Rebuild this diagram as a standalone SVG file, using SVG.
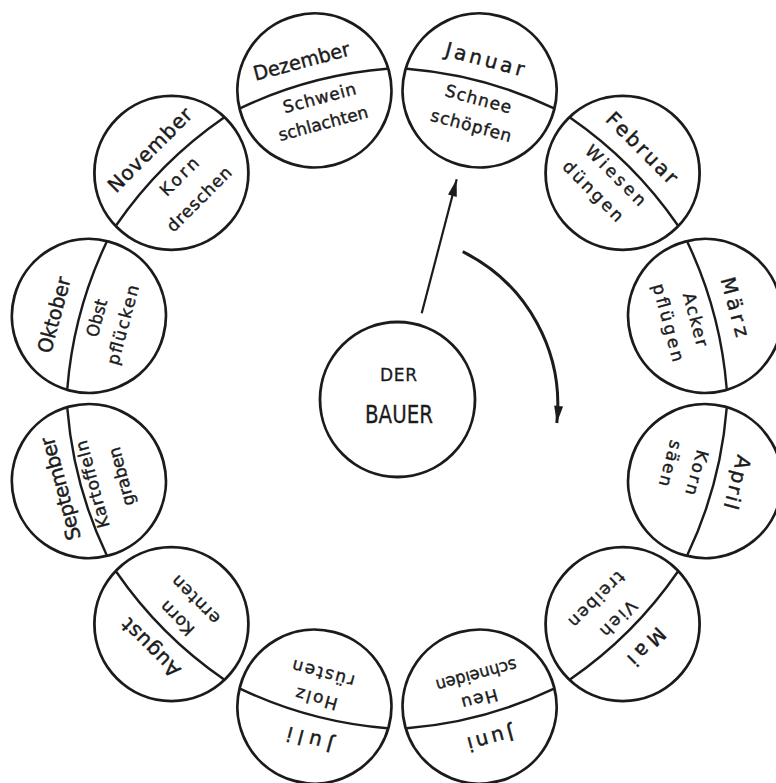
<svg xmlns="http://www.w3.org/2000/svg" width="776" height="783" viewBox="0 0 776 783">
<style>
.c{fill:none;stroke:#1b1b1b;stroke-width:2.8}
.d{fill:none;stroke:#1b1b1b;stroke-width:2.4}
.m{font-family:"DejaVu Sans",sans-serif;font-size:20px;fill:#1b1b1b;stroke:#1b1b1b;stroke-width:0.45;text-anchor:middle}
.a{font-family:"DejaVu Sans",sans-serif;font-size:17px;fill:#1b1b1b;stroke:#1b1b1b;stroke-width:0.4;text-anchor:middle}
.t{font-family:"DejaVu Sans",sans-serif;fill:#1b1b1b;stroke:#1b1b1b;stroke-width:0.3;text-anchor:middle}
.k{fill:none;stroke:#1b1b1b}
</style>
<defs>
<marker id="ah" markerUnits="userSpaceOnUse" viewBox="-18 -6 19 12" markerWidth="19" markerHeight="12" refX="0" refY="0" orient="auto">
<path d="M0,0 L-17,-4.5 L-17,4.5 Z" fill="#1b1b1b"/>
</marker>
<path id="div" d="M-76,-2 Q0,-16 76,-2"/>
</defs>
<rect width="776" height="783" fill="#ffffff"/>

<g id="connectors">
<line class="k" stroke-width="2.2" x1="421.7" y1="313.3" x2="456.7" y2="179.3" marker-end="url(#ah)"/>
<path class="k" stroke-width="3" d="M462.7,251.7 A170.7,170.7 0 0 1 556.8,423" marker-end="url(#ah)"/>
</g>

<g id="bauer">
<circle class="c" cx="397.5" cy="399.5" r="77.5"/>
<text class="t" x="398.5" y="381" font-size="17" textLength="37">DER</text>
<text class="t" x="399" y="423" font-size="24.5" textLength="68" lengthAdjust="spacingAndGlyphs">BAUER</text>
</g>

<g id="januar" transform="translate(479.6,90.4) rotate(15)">
<circle class="c" r="77"/><use href="#div" class="d"/>
<text class="m" x="-3" y="-24.5" textLength="81">Januar</text>
<text class="a" x="1" y="14.5" textLength="68">Schnee</text>
<text class="a" x="1" y="42" textLength="83">schöpfen</text>
</g>

<g id="februar" transform="translate(622.6,172.9) rotate(45)">
<circle class="c" r="77"/><use href="#div" class="d"/>
<text class="m" x="-4" y="-24.5" textLength="92">Februar</text>
<text class="a" x="-3" y="12.5" textLength="78">Wiesen</text>
<text class="a" x="-8" y="39.5" textLength="78">düngen</text>
</g>

<g id="maerz" transform="translate(705.1,315.9) rotate(75)">
<circle class="c" r="77"/><use href="#div" class="d"/>
<text class="m" x="-1" y="-24.5" textLength="61">März</text>
<text class="a" x="1" y="16" textLength="55">Acker</text>
<text class="a" x="-3" y="43" textLength="80">pflügen</text>
</g>

<g id="april" transform="translate(705.1,481.1) rotate(105)">
<circle class="c" r="77"/><use href="#div" class="d"/>
<text class="m" x="-7" y="-24.5" textLength="55">April</text>
<text class="a" x="-6" y="16" textLength="46">Korn</text>
<text class="a" x="-8" y="44" textLength="47">säen</text>
</g>

<g id="mai" transform="translate(622.6,624.1) rotate(135)">
<circle class="c" r="77"/><use href="#div" class="d"/>
<text class="m" x="-1" y="-26" textLength="45">Mai</text>
<text class="a" x="-1" y="12.5" textLength="44">Vieh</text>
<text class="a" x="1" y="41.5" textLength="71">treiben</text>
</g>

<g id="juni" transform="translate(479.6,706.6) rotate(165)">
<circle class="c" r="77"/><use href="#div" class="d"/>
<text class="m" x="-2" y="-27" textLength="47">Juni</text>
<text class="a" x="-2" y="13" textLength="37">Heu</text>
<text class="a" x="-5" y="37" textLength="83" lengthAdjust="spacingAndGlyphs">schneiden</text>
</g>

<g id="juli" transform="translate(314.4,706.6) rotate(195)">
<circle class="c" r="77"/><use href="#div" class="d"/>
<text class="m" x="-4" y="-26" textLength="47">Juli</text>
<text class="a" x="0" y="14" textLength="43">Holz</text>
<text class="a" x="0" y="40" textLength="64">rüsten</text>
</g>

<g id="august" transform="translate(171.4,624.1) rotate(225)">
<circle class="c" r="77"/><use href="#div" class="d"/>
<text class="m" x="-2" y="-24.5" textLength="74">August</text>
<text class="a" x="0" y="14" textLength="41">Korn</text>
<text class="a" x="0" y="40" textLength="61">ernten</text>
</g>

<g id="september" transform="translate(88.9,481.1) rotate(255)">
<circle class="c" r="77"/><use href="#div" class="d"/>
<text class="m" x="0" y="-22.5" textLength="106">September</text>
<text class="a" x="-4" y="8.5" textLength="90">Kartoffeln</text>
<text class="a" x="-4" y="38.5" textLength="60">graben</text>
</g>

<g id="oktober" transform="translate(88.9,315.9) rotate(285)">
<circle class="c" r="77"/><use href="#div" class="d"/>
<text class="m" x="-8" y="-27" textLength="78" lengthAdjust="spacingAndGlyphs">Oktober</text>
<text class="a" x="0" y="14" textLength="38" lengthAdjust="spacingAndGlyphs">Obst</text>
<text class="a" x="0" y="41" textLength="82">pflücken</text>
</g>

<g id="november" transform="translate(171.4,172.9) rotate(315)">
<circle class="c" r="77"/><use href="#div" class="d"/>
<text class="m" x="1" y="-24.5" textLength="110">November</text>
<text class="a" x="3" y="14" textLength="47">Korn</text>
<text class="a" x="1" y="44" textLength="84">dreschen</text>
</g>

<g id="dezember" transform="translate(314.4,90.4) rotate(345)">
<circle class="c" r="77"/><use href="#div" class="d"/>
<text class="m" x="-5" y="-24.5" textLength="99" lengthAdjust="spacingAndGlyphs">Dezember</text>
<text class="a" x="3" y="14.5" textLength="75">Schwein</text>
<text class="a" x="0" y="40" textLength="92">schlachten</text>
</g>
</svg>
